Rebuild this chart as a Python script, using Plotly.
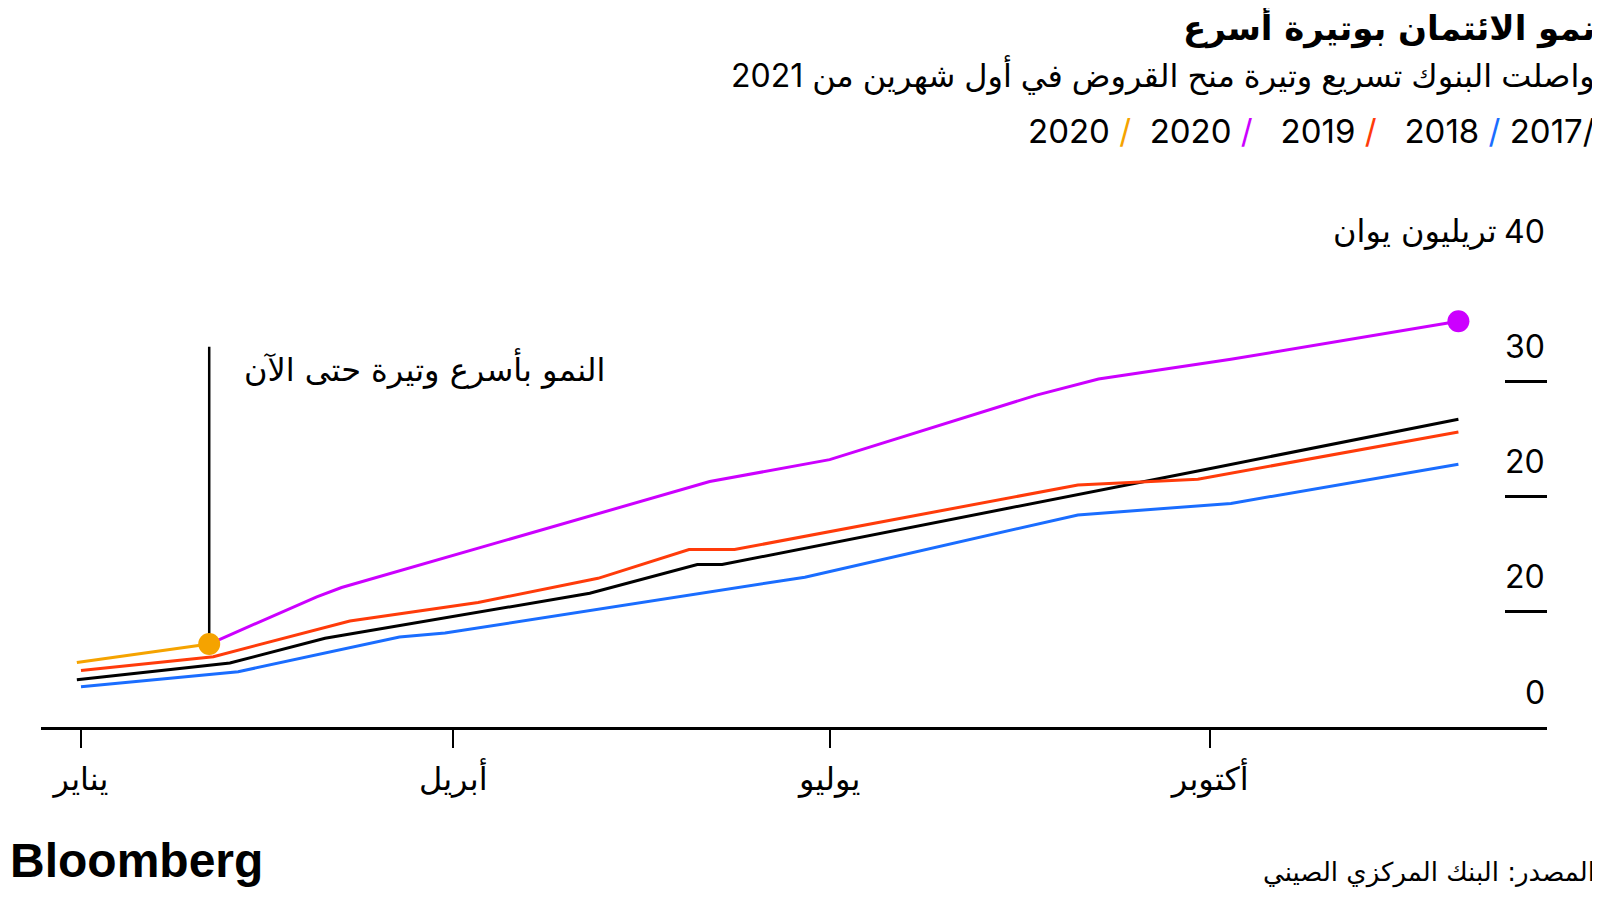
import plotly.graph_objects as go

# cumulative new loans, trillion yuan
dates_2021 = ["2020-12-31", "2021-02-01"]
vals_2021 = [5.6, 7.2]

dates_2020 = ["2021-02-01", "2021-02-27", "2021-03-05", "2021-06-02", "2021-07-01",
              "2021-08-20", "2021-09-04", "2021-10-06", "2021-11-30"]
vals_2020 = [7.2, 11.3, 12.1, 21.3, 23.2, 28.8, 30.2, 31.9, 35.2]

dates_2019 = ["2021-01-01", "2021-02-02", "2021-03-07", "2021-04-07", "2021-05-06",
              "2021-05-28", "2021-06-08", "2021-08-30", "2021-09-28", "2021-11-30"]
vals_2019 = [4.9, 6.1, 9.2, 10.8, 12.9, 15.4, 15.4, 21.0, 21.5, 25.6]

dates_2017 = ["2020-12-31", "2021-02-06", "2021-03-01", "2021-05-04", "2021-05-30",
              "2021-06-05", "2021-10-02", "2021-11-30"]
vals_2017 = [4.1, 5.55, 7.7, 11.6, 14.1, 14.1, 22.5, 26.7]

dates_2018 = ["2021-01-01", "2021-02-08", "2021-03-19", "2021-03-30", "2021-06-25",
              "2021-08-30", "2021-10-06", "2021-11-30"]
vals_2018 = [3.5, 4.8, 7.8, 8.15, 13.0, 18.4, 19.4, 22.8]

month_ticks = ["2021-01-01", "2021-04-01", "2021-07-01", "2021-10-01"]
month_labels = ["يناير", "أبريل", "يوليو", "أكتوبر"]
y_ticks = [0, 10, 20, 30, 40]
y_labels = ["0", "20", "20", "30", "40"]

YELLOW = "#f5a300"
PURPLE = "#cc00ff"
RED = "#ff3b0a"
BLUE = "#1a6dff"
BLACK = "#000000"

AR = "DejaVu Sans"
NUM = "Inter, DejaVu Sans"

# the page body has an 8px margin, so the figure is drawn 8px in;
# keep its height small enough that no scrollbar shows up
OFF = 8
W, H = 1600 - OFF, 902 - 2 * OFF - 2
L, R, T, B = 41, 1547, 266, 727   # plot area in screenshot pixels
RIGHT = 1597                      # right edge for right-aligned texts


def px(x):
    return (x - L) / (R - L)


def py(y):
    return (B - y) / (B - T)


fig = go.Figure()
for d, v, c, n in [(dates_2018, vals_2018, BLUE, "2018"),
                   (dates_2017, vals_2017, BLACK, "2017"),
                   (dates_2019, vals_2019, RED, "2019"),
                   (dates_2020, vals_2020, PURPLE, "2020"),
                   (dates_2021, vals_2021, YELLOW, "2021")]:
    fig.add_trace(go.Scatter(x=d, y=v, mode="lines", name=n,
                             line=dict(color=c, width=3)))

# end dots
fig.add_trace(go.Scatter(x=dates_2020[-1:], y=vals_2020[-1:], mode="markers",
                         marker=dict(color=PURPLE, size=22)))
fig.add_trace(go.Scatter(x=dates_2021[-1:], y=vals_2021[-1:], mode="markers",
                         marker=dict(color=YELLOW, size=22)))

# note line
fig.add_shape(type="line", xref="x", yref="y", layer="below",
              x0=dates_2021[-1], x1=dates_2021[-1], y0=vals_2021[-1], y1=33,
              line=dict(color=BLACK, width=2.5))

ann = []
ann.append(dict(x=dates_2021[-1], y=31.1, xref="x", yref="y", xanchor="left",
                yanchor="middle", xshift=33, showarrow=False,
                text="النمو بأسرع وتيرة حتى الآن", font=dict(family=AR, size=32)))

for v, t in zip(y_ticks, y_labels):
    ann.append(dict(x=1, y=v, xref="paper", yref="y", xanchor="right",
                    yanchor="middle", yshift=35, showarrow=False, text=t,
                    font=dict(family=NUM, size=32)))
ann.append(dict(x=px(1499), y=40, xref="paper", yref="y", xanchor="right",
                yanchor="middle", yshift=35, showarrow=False, text="تريليون يوان",
                font=dict(family=AR, size=32)))

ann.append(dict(x=px(RIGHT), y=py(27), xref="paper", yref="paper", xanchor="right",
                yanchor="middle", showarrow=False, text="<b>نمو الائتمان بوتيرة أسرع</b>",
                font=dict(family=AR, size=34)))
ann.append(dict(x=px(RIGHT), y=py(75), xref="paper", yref="paper", xanchor="right",
                yanchor="middle", showarrow=False,
                text="واصلت البنوك تسريع وتيرة منح القروض في أول شهرين من 2021",
                font=dict(family=NUM, size=32)))

sp = "\u00a0"
legend_txt = ("2020" + sp + f"<span style='color:{YELLOW}'>/</span>" + sp * 2 +
              "2020" + sp + f"<span style='color:{PURPLE}'>/</span>" + sp * 3 +
              "2019" + sp + f"<span style='color:{RED}'>/</span>" + sp * 3 +
              "2018" + sp + f"<span style='color:{BLUE}'>/</span>" + sp +
              "2017/")
ann.append(dict(x=px(RIGHT), y=py(131), xref="paper", yref="paper", xanchor="right",
                yanchor="middle", showarrow=False, text=legend_txt,
                font=dict(family=NUM, size=33)))

ann.append(dict(x=px(OFF), y=py(860), xref="paper", yref="paper", xanchor="left",
                yanchor="middle", showarrow=False, text="<b>Bloomberg</b>",
                font=dict(family="Liberation Sans", size=48)))
ann.append(dict(x=px(RIGHT), y=py(872), xref="paper", yref="paper", xanchor="right",
                yanchor="middle", showarrow=False, text="المصدر: البنك المركزي الصيني",
                font=dict(family=AR, size=26)))

fig.update_layout(
    width=W, height=H,
    margin=dict(l=L - OFF, r=W - (R - OFF), t=T - OFF, b=H - (B - OFF),
                pad=0, autoexpand=False),
    plot_bgcolor="white", paper_bgcolor="white",
    font=dict(color=BLACK),
    showlegend=False,
    annotations=ann,
    xaxis=dict(range=["2020-12-22 08:00", "2021-12-21 10:00"],
               tickvals=month_ticks, ticktext=month_labels,
               showline=True, linecolor=BLACK, linewidth=2.5,
               ticks="outside", ticklen=18, tickwidth=2, tickcolor=BLACK,
               ticklabelstandoff=4,
               showgrid=False, zeroline=False,
               tickfont=dict(family=AR, size=32, color=BLACK)),
    yaxis=dict(range=[0, 40], side="right", tickvals=y_ticks,
               showticklabels=False, ticks="inside", ticklen=42, tickwidth=3,
               tickcolor=BLACK, showgrid=False, zeroline=False, showline=False),
)

fig.write_html("out.html")
